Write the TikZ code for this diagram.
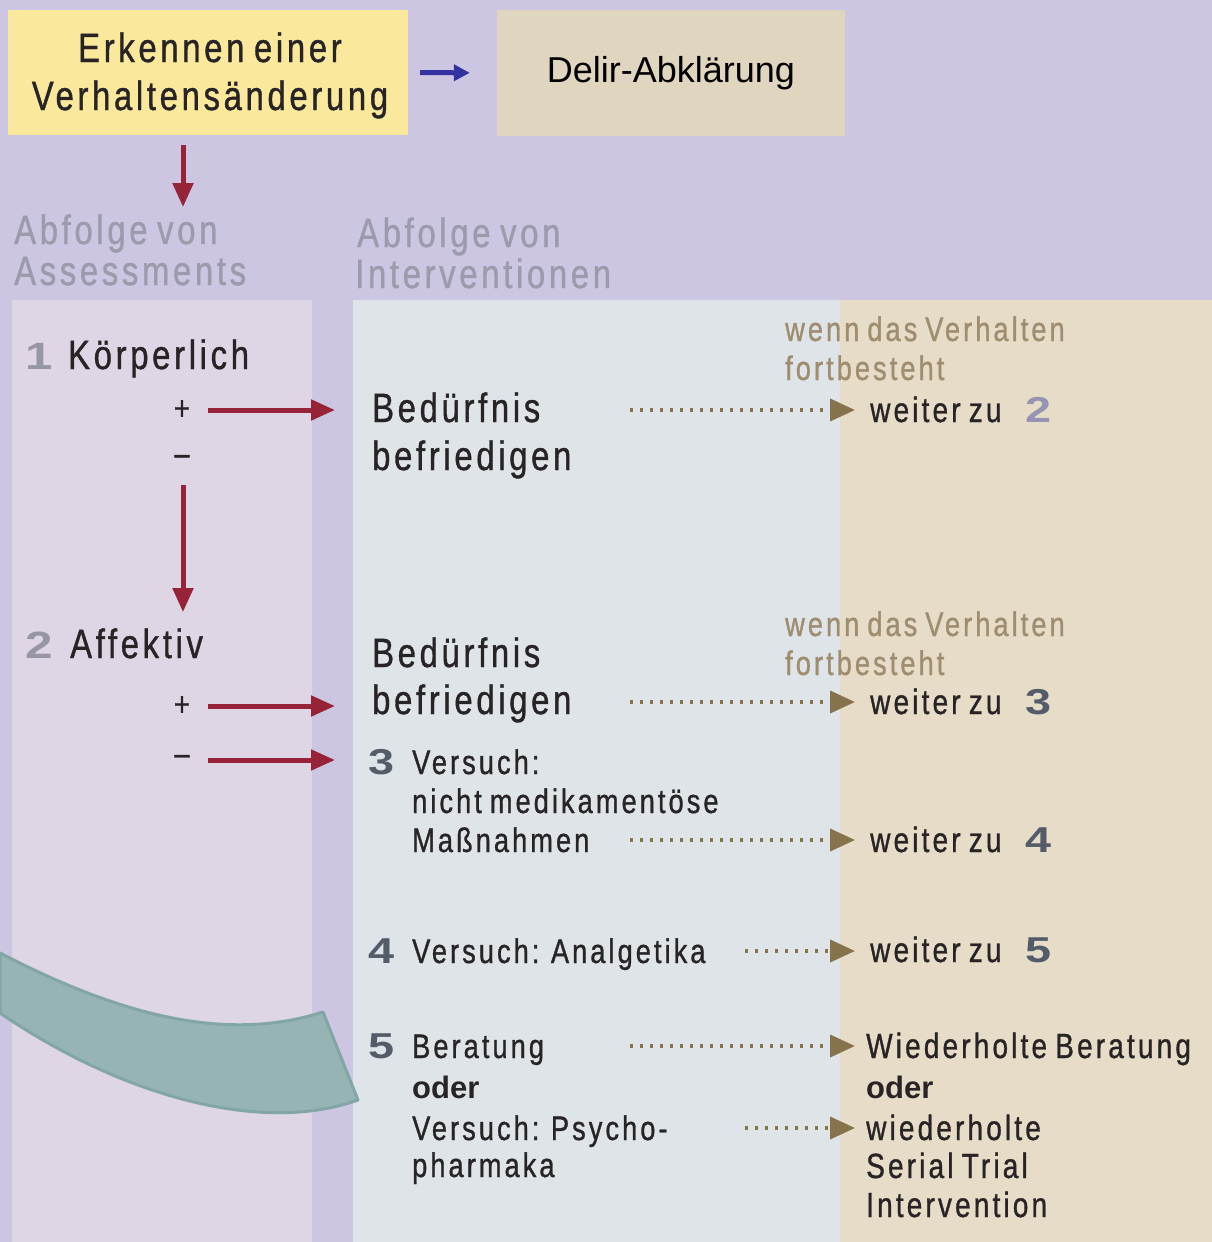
\documentclass[tikz,border=0pt]{standalone}
\usepackage{fontspec}
\setmainfont{Liberation Sans}[FakeStretch=0.8,LetterSpace=9,FakeBold=0.9,WordSpace=0.75]
\newfontfamily\numfont{Liberation Sans}[FakeStretch=1.3]
\newfontfamily\plainfont{Liberation Sans}
\usetikzlibrary{arrows.meta}
\definecolor{bgl}{RGB}{205,198,226}
\definecolor{leftp}{RGB}{222,214,228}
\definecolor{midp}{RGB}{222,228,232}
\definecolor{rightp}{RGB}{230,220,200}
\definecolor{yel}{RGB}{250,232,156}
\definecolor{delirc}{RGB}{224,213,190}
\definecolor{darkred}{RGB}{150,35,55}
\definecolor{navy}{RGB}{50,50,160}
\definecolor{dotc}{RGB}{135,115,75}
\definecolor{headg}{RGB}{155,155,172}
\definecolor{wennc}{RGB}{160,140,110}
\definecolor{txtc}{RGB}{40,36,38}
\definecolor{numl}{RGB}{150,150,165}
\definecolor{numd}{RGB}{85,92,105}
\definecolor{numv}{RGB}{150,148,178}
\definecolor{tealf}{RGB}{150,180,180}
\definecolor{teald}{RGB}{130,165,165}
\tikzset{
  lbl/.style={anchor=base west, inner sep=0pt, text=txtc, font=\fontsize{41}{48}\selectfont},
  sml/.style={anchor=base west, inner sep=0pt, text=txtc, font=\fontsize{34}{40}\selectfont},
  rgt/.style={anchor=base west, inner sep=0pt, text=txtc, font=\fontsize{35}{40}\selectfont},
  head/.style={anchor=base west, inner sep=0pt, text=headg, font=\fontsize{41}{41}\selectfont},
  wenn/.style={anchor=base west, inner sep=0pt, text=wennc, font=\fontsize{34}{39}\selectfont},
  numlt/.style={anchor=base west, inner sep=0pt, text=numl, font=\fontsize{38}{38}\numfont\bfseries},
  numdk/.style={anchor=base west, inner sep=0pt, text=numd, font=\fontsize{36}{36}\numfont\bfseries},
  oderb/.style={anchor=base west, inner sep=0pt, text=txtc, font=\fontsize{31}{36}\plainfont\bfseries},
  sign/.style={inner sep=0pt, text=txtc, font=\fontsize{34}{34}\selectfont},
  redarr/.style={draw=darkred, line width=5pt, -{Triangle[length=24pt,width=20pt]}},
  bluearr/.style={draw=navy, line width=5pt, -{Triangle[length=16pt,width=16pt]}},
  dotarr/.style={draw=dotc, line width=4pt, dash pattern=on 3pt off 7pt, -{Triangle[length=25pt,width=22pt]}},
  box/.style={inner sep=0pt}
}
\begin{document}
\begin{tikzpicture}[x=1pt,y=-1pt]
\useasboundingbox (0,0) rectangle (1212,1242);
% background and panels
\fill[bgl] (0,0) rectangle (1212,1242);
\fill[leftp] (12,300) rectangle (312,1242);
\fill[midp] (353,300) rectangle (840,1242);
\fill[rightp] (840,300) rectangle (1212,1242);
% top boxes
\node[box, fill=yel, minimum width=400pt, minimum height=125pt] (erk) at (208,72.5) {};
\node[lbl, anchor=base] (erk1) at (210,62) {Erkennen einer};
\node[lbl, anchor=base] (erk2) at (210,110) {Verhaltensänderung};
\node[box, fill=delirc, minimum width=348pt, minimum height=126pt, font=\fontsize{36}{40}\plainfont, text=black] (delir) at (671,73) {Delir-Abklärung};
\draw[bluearr, shorten <=12pt, shorten >=27pt] (erk.east) -- (delir.west);
% headings
\node[head] (abf1) at (14,244) {Abfolge von};
\node[head] (ass) at (14,285) {Assessments};
\node[head] (abf2) at (357,247) {Abfolge von};
\node[head] (int) at (355,288) {Interventionen};
\coordinate (t0) at (183,145);
\draw[redarr, shorten >=7pt] (t0) -- (t0 |- abf1.north);
% teal curved band
\filldraw[fill=tealf, draw=teald, line width=3pt, line join=round]
  (0,953) .. controls (110,1010) and (220,1045) .. (323,1012)
  -- (358,1100) .. controls (260,1135) and (120,1095) .. (0,1013) -- cycle;
% left column
\node[numlt] (n1) at (25,369) {1};
\node[lbl] (koerp) at (68,369) {Körperlich};
\node[sign] (plusA) at (182,410) {+};
\node[sign] (minusA) at (182,460) {–};
\node[numlt] (n2) at (25,658) {2};
\node[lbl] (affekt) at (70,658) {Affektiv};
\node[sign] (plusB) at (182,706) {+};
\node[sign] (minusB) at (182,760) {–};
% middle column
\node[lbl] (bed1a) at (372,422) {Bedürfnis};
\node[lbl] (bed1b) at (372,470) {befriedigen};
\node[lbl] (bed2a) at (372,667) {Bedürfnis};
\node[lbl] (bed2b) at (372,714) {befriedigen};
\node[numdk] (n3) at (368,774) {3};
\node[sml] (v3a) at (412,774) {Versuch:};
\node[sml] (v3b) at (412,813) {nicht medikamentöse};
\node[sml] (v3c) at (412,852) {Maßnahmen};
\node[numdk] (n4) at (368,963) {4};
\node[sml] (v4) at (412,963) {Versuch: Analgetika};
\node[numdk] (n5) at (368,1058) {5};
\node[sml] (v5a) at (412,1058) {Beratung};
\node[oderb] (v5b) at (412,1098) {oder};
\node[sml] (v5c) at (412,1140) {Versuch: Psycho-};
\node[sml] (v5d) at (412,1177) {pharmaka};
% right column
\node[wenn] (wa1) at (785,341) {wenn das Verhalten};
\node[wenn] (wa2) at (785,380) {fortbesteht};
\node[wenn] (wb1) at (785,636) {wenn das Verhalten};
\node[wenn] (wb2) at (785,675) {fortbesteht};
\node[rgt] (w2) at (870,422) {weiter zu};
\node[numdk, text=numv] (m2) at (1025,422) {2};
\node[rgt] (w3) at (870,714) {weiter zu};
\node[numdk] (m3) at (1025,714) {3};
\node[rgt] (w4) at (870,852) {weiter zu};
\node[numdk] (m4) at (1025,852) {4};
\node[rgt] (w5) at (870,962) {weiter zu};
\node[numdk] (m5) at (1025,962) {5};
\node[rgt] (r1) at (866,1058) {Wiederholte Beratung};
\node[oderb] (r2) at (866,1098) {oder};
\node[rgt] (r3) at (866,1140) {wiederholte};
\node[rgt] (r4) at (866,1178) {Serial Trial};
\node[rgt] (r5) at (866,1217) {Intervention};
% red arrows
\coordinate (pA) at (208,410);
\draw[redarr, shorten >=37pt] (pA) -- (pA -| bed1a.west);
\coordinate (dA) at (183,485);
\draw[redarr, shorten >=16pt] (dA) -- (dA |- affekt.north);
\coordinate (pB) at (208,706);
\draw[redarr, shorten >=37pt] (pB) -- (pB -| bed2b.west);
\coordinate (mB) at (208,760);
\draw[redarr, shorten >=33pt] (mB) -- (mB -| n3.west);
% dotted arrows
\coordinate (s1) at (630,410);
\draw[dotarr, shorten >=15pt] (s1) -- (s1 -| w2.west);
\coordinate (s2) at (630,702);
\draw[dotarr, shorten >=15pt] (s2) -- (s2 -| w3.west);
\coordinate (s3) at (630,840);
\draw[dotarr, shorten >=15pt] (s3) -- (s3 -| w4.west);
\coordinate (s4) at (745,951);
\draw[dotarr, shorten >=15pt] (s4) -- (s4 -| w5.west);
\coordinate (s5) at (630,1046);
\draw[dotarr, shorten >=11pt] (s5) -- (s5 -| r1.west);
\coordinate (s6) at (745,1128);
\draw[dotarr, shorten >=11pt] (s6) -- (s6 -| r3.west);
\end{tikzpicture}
\end{document}
